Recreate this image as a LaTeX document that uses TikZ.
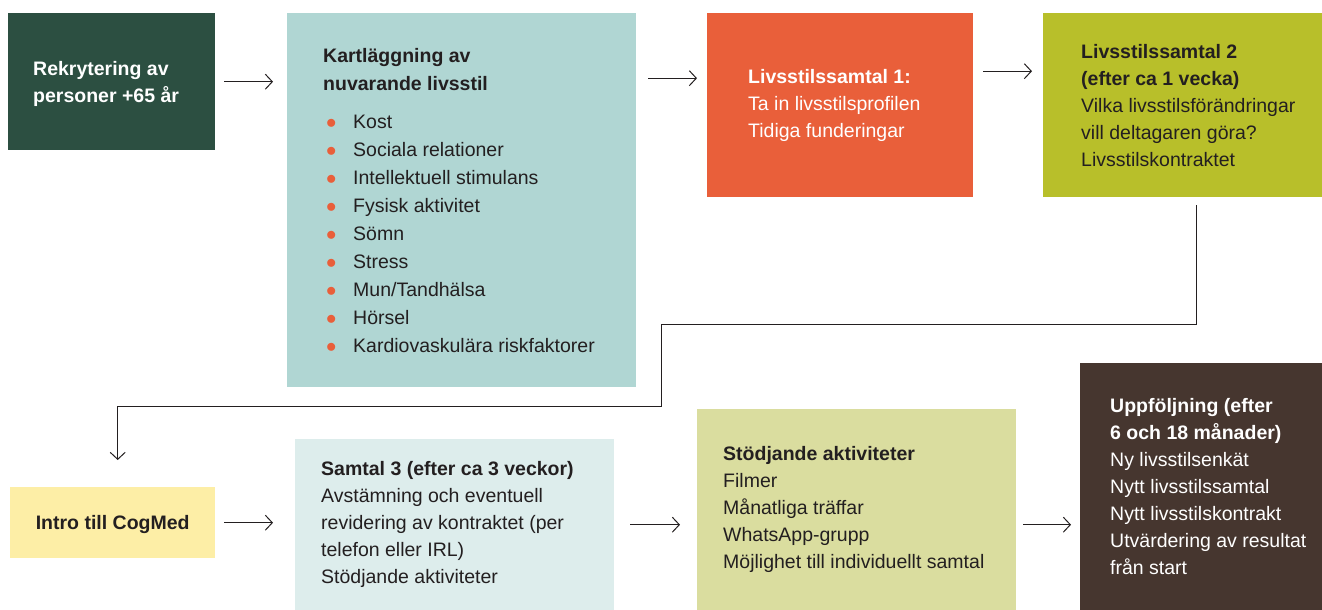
\documentclass[tikz,border=0pt]{standalone}
\usepackage{fontspec}
\setmainfont{Liberation Sans}
\usetikzlibrary{arrows.meta}
\definecolor{mork}{HTML}{2C4F41}
\definecolor{turkos}{HTML}{B0D6D3}
\definecolor{orange}{HTML}{E95F3A}
\definecolor{lime}{HTML}{B8BF2A}
\definecolor{gul}{HTML}{FDEEA6}
\definecolor{ljusturkos}{HTML}{DDEDEC}
\definecolor{oliv}{HTML}{DADD9F}
\definecolor{brun}{HTML}{46362F}
\definecolor{linje}{HTML}{231F20}
\newcommand{\pkt}{\makebox[30pt][l]{\hspace{3pt}\textcolor{orange}{$\bullet$}}}
\begin{document}
\begin{tikzpicture}[x=1pt,y=-1pt,>={Straight Barb[length=7pt,width=15pt]},
	ruta/.style={rectangle,inner sep=0pt,anchor=north west},
	txt/.style={anchor=west,align=left,inner sep=0pt,text=linje,font=\fontsize{19.5}{27}\selectfont},
	pil/.style={->,line width=1pt,draw=linje}]
	\useasboundingbox (0,0) rectangle (1322,610);
	\node[ruta,fill=mork,minimum width=207pt,minimum height=137pt] (rekr) at (8,13) {};
	\node[ruta,fill=turkos,minimum width=349pt,minimum height=374pt] (kart) at (287,13) {};
	\node[ruta,fill=orange,minimum width=266pt,minimum height=184pt] (samt1) at (707,13) {};
	\node[ruta,fill=lime,minimum width=279pt,minimum height=184pt] (samt2) at (1043,13) {};
	\node[ruta,fill=gul,minimum width=205pt,minimum height=71pt] (intro) at (10,487) {};
	\node[ruta,fill=ljusturkos,minimum width=319pt,minimum height=171pt] (samt3) at (295,439) {};
	\node[ruta,fill=oliv,minimum width=319pt,minimum height=201pt] (stod) at (697,409) {};
	\node[ruta,fill=brun,minimum width=242pt,minimum height=247pt] (uppf) at (1080,363) {};
	\node[txt,text=white] (rekrt) at ([xshift=25pt,yshift=-2pt]rekr.west) {\textbf{Rekrytering av}\\\textbf{personer +65 år}};
	\node[txt,font=\fontsize{19.5}{28}\selectfont] (kartt) at ([xshift=36pt]kart.west) {\textbf{Kartläggning av}\\\textbf{nuvarande livsstil}\\[10pt]
		\pkt Kost\\\pkt Sociala relationer\\\pkt Intellektuell stimulans\\\pkt Fysisk aktivitet\\\pkt Sömn\\
		\pkt Stress\\\pkt Mun/Tandhälsa\\\pkt Hörsel\\\pkt Kardiovaskulära riskfaktorer};
	\node[txt,text=white] (samt1t) at ([xshift=41pt]samt1.west) {\textbf{Livsstilssamtal 1:}\\Ta in livsstilsprofilen\\Tidiga funderingar};
	\node[txt] (samt2t) at ([xshift=38pt]samt2.west) {\textbf{Livsstilssamtal 2}\\\textbf{(efter ca 1 vecka)}\\Vilka livsstilsförändringar\\vill deltagaren göra?\\Livsstilskontraktet};
	\node[txt,anchor=center] (introt) at ([yshift=-2pt]intro.center) {\textbf{Intro till CogMed}};
	\node[txt] (samt3t) at ([xshift=26pt]samt3.west) {\textbf{Samtal 3 (efter ca 3 veckor)}\\Avstämning och eventuell\\revidering av kontraktet (per\\telefon eller IRL)\\Stödjande aktiviteter};
	\node[txt] (stodt) at ([xshift=26pt]stod.west) {\textbf{Stödjande aktiviteter}\\Filmer\\Månatliga träffar\\WhatsApp-grupp\\Möjlighet till individuellt samtal};
	\node[txt,text=white] (uppft) at ([xshift=30pt]uppf.west) {\textbf{Uppföljning (efter}\\\textbf{6 och 18 månader)}\\Ny livsstilsenkät\\Nytt livsstilssamtal\\Nytt livsstilskontrakt\\Utvärdering av resultat\\från start};
	\draw[pil,shorten <=9pt,shorten >=14pt] (rekr.east) -- (rekr.east -| kart.west);
	\draw[pil] ([xshift=12pt,yshift=27pt]samt1.west -| kart.east) -- ([xshift=-10pt,yshift=27pt]samt1.west);
	\draw[pil] ([xshift=10pt,yshift=34pt]samt2.west -| samt1.east) -- ([xshift=-11pt,yshift=34pt]samt2.west);
	\coordinate (k1) at (661,324);
	\coordinate (k2) at (661,406);
	\draw[pil] ([xshift=14pt,yshift=-8pt]samt2.south) |- (k1) -- (k2) -| ([xshift=5pt,yshift=27pt]intro.north);
	\draw[pil,shorten <=9pt,shorten >=22pt] (intro.east) -- (intro.east -| samt3.west);
	\draw[pil,shorten <=16pt,shorten >=17pt] (samt3.east) -- (samt3.east -| stod.west);
	\draw[pil,shorten <=7pt,shorten >=9pt] (samt3.east -| stod.east) -- (samt3.east -| uppf.west);
\end{tikzpicture}
\end{document}
